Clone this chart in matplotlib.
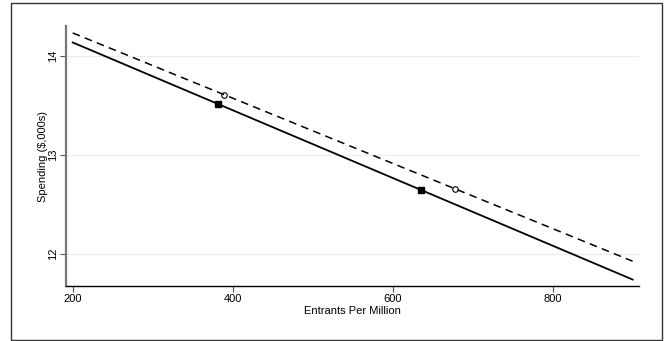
import matplotlib.pyplot as plt
from matplotlib.patches import Rectangle

plt.rcParams['font.family'] = ['Liberation Sans', 'DejaVu Sans']

# predicted spending lines (end points)
line_x = [200, 900]
solid_y = [14.134, 11.745]
dashed_y = [14.23, 11.93]

# marked points on each line
square_x = [381.6, 635.4]
square_y = [13.514, 12.647]
circle_x = [389.5, 677.9]
circle_y = [13.608, 12.658]

xticks = [200, 400, 600, 800]
yticks = [12, 13, 14]

fig = plt.figure(figsize=(6.66, 3.41), dpi=100)
ax = fig.add_axes([66 / 666, 1 - 286 / 341, (639 - 66) / 666, (286 - 26) / 341])

# horizontal grid
for y in yticks:
    ax.axhline(y, color='#e6eff0', lw=0.9, zorder=0)

ax.plot(line_x, solid_y, color='black', lw=1.3, zorder=2)
ax.plot(line_x, dashed_y, color='black', lw=1.1, ls=(0, (5, 3.5)), zorder=2)
ax.plot(square_x, square_y, 's', color='black', ms=5, zorder=3)
ax.plot(circle_x, circle_y, 'o', mfc='white', mec='black', mew=0.8, ms=4, zorder=1)

ax.set_xlim(191.6, 908)
ax.set_ylim(11.68, 14.30)
ax.set_xticks(xticks)
ax.set_yticks(yticks)
ax.set_yticklabels([str(t) for t in yticks], rotation=90, va='center')
ax.tick_params(axis='both', labelsize=8, length=4, width=0.8, color='#555555',
               direction='out', pad=2)

ax.spines['top'].set_visible(False)
ax.spines['right'].set_visible(False)
ax.spines['left'].set_color('#777777')
ax.spines['left'].set_linewidth(1.6)
ax.spines['bottom'].set_color('black')
ax.spines['bottom'].set_linewidth(1.0)

ax.set_xlabel('Entrants Per Million', fontsize=8, labelpad=1)
ax.set_ylabel('Spending ($,000s)', fontsize=8, labelpad=0)

# outer frame
fig.patches.append(Rectangle((11 / 666, 1 / 341), 651 / 666, 337 / 341,
                             transform=fig.transFigure, fill=False,
                             edgecolor='#333333', lw=1.0))

fig.savefig('out.png', dpi=100)
